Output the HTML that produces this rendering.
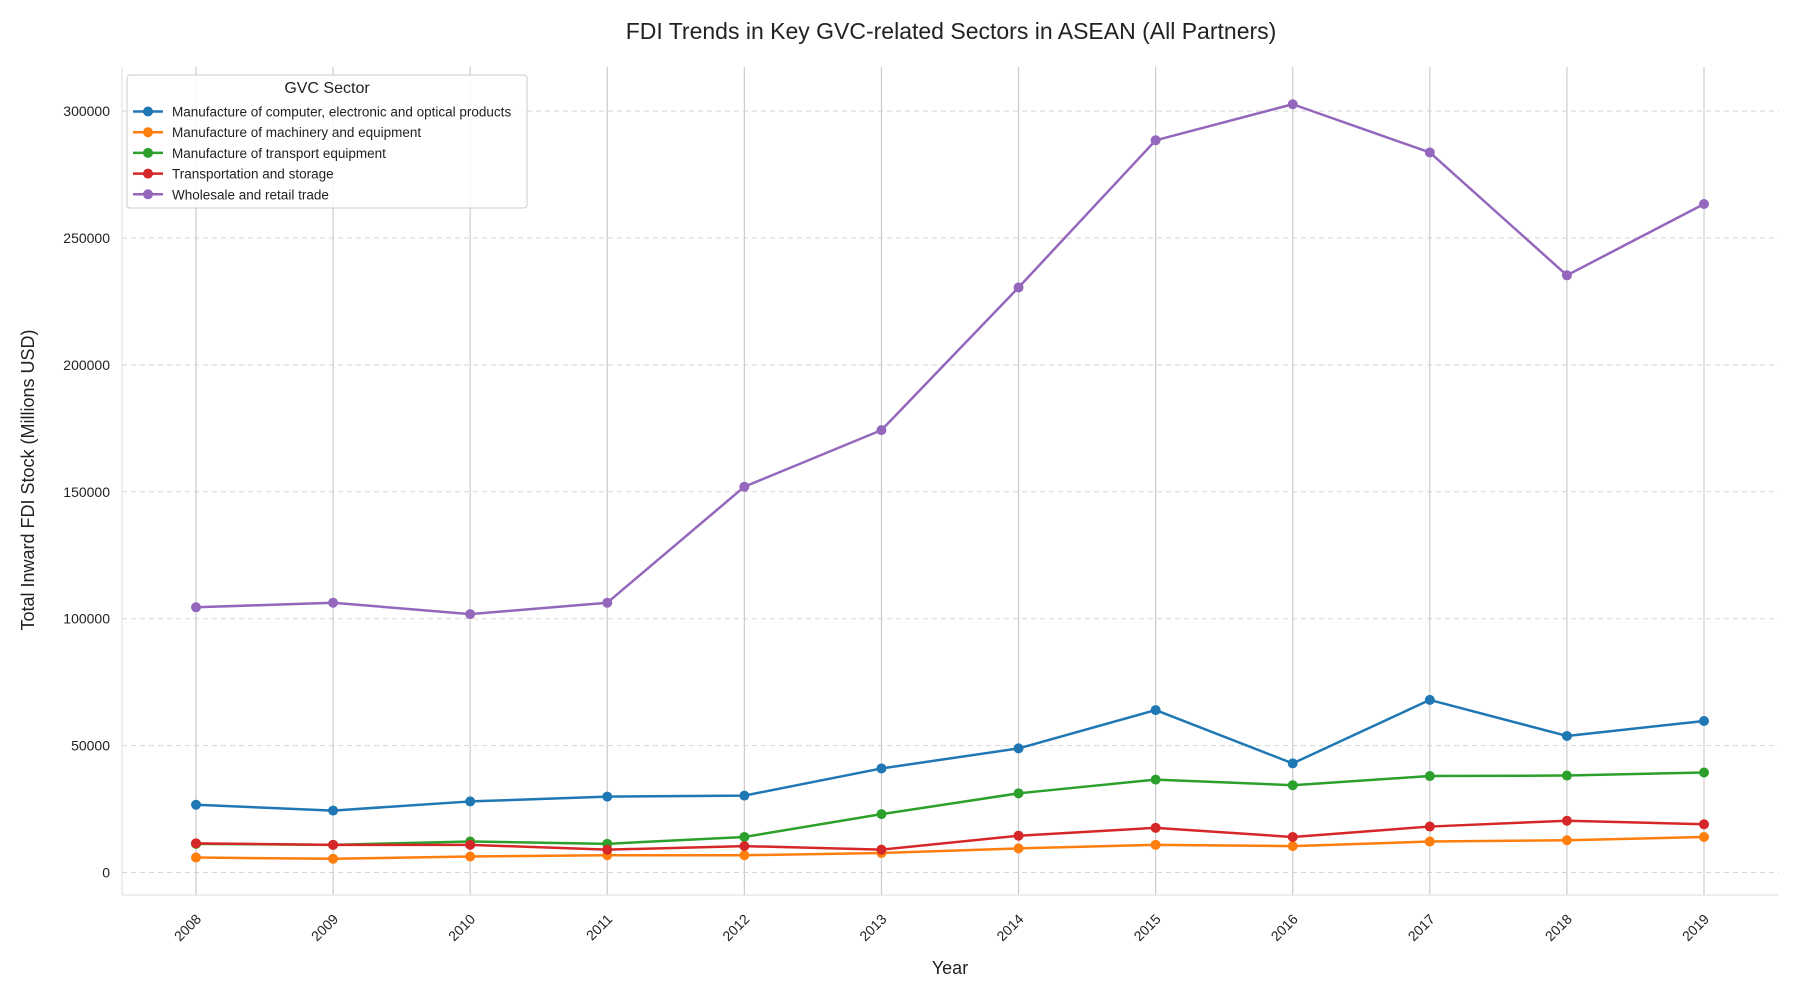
<!DOCTYPE html>
<html><head><meta charset="utf-8"><style>
body{margin:0;background:#fff;}
svg{display:block;font-family:"Liberation Sans",Arial,sans-serif;}
</style></head><body>
<svg id="s" width="1800" height="1000" xmlns="http://www.w3.org/2000/svg"></svg>
<script>
const s=document.getElementById('s');
const L=122,R=1779,T=67,B=895;
const X=i=>196+i*(1704-196)/11;
const Y=v=>872.5-v/50000*126.9;
let h='';
h+=`<text x="951" y="39" text-anchor="middle" font-size="23" fill="#222">FDI Trends in Key GVC-related Sectors in ASEAN (All Partners)</text>`;
for(let k=0;k<=6;k++){const y=Y(k*50000);
h+=`<line x1="${L}" x2="${R}" y1="${y}" y2="${y}" stroke="#d5d5d5" stroke-dasharray="5,4" stroke-width="1"/>`;
h+=`<text x="${L-12}" y="${y+5}" text-anchor="end" font-size="14" fill="#222">${k*50000}</text>`;}
for(let i=0;i<12;i++){const x=X(i);
h+=`<line x1="${x}" x2="${x}" y1="${T}" y2="${B}" stroke="#cccccc" stroke-width="1.2"/>`;
h+=`<text transform="translate(${x+6},${B+25}) rotate(-45)" text-anchor="end" font-size="14" fill="#222">${2008+i}</text>`;}
h+=`<line x1="${L}" x2="${L}" y1="${T}" y2="${B}" stroke="#ddd"/><line x1="${L}" x2="${R}" y1="${B}" y2="${B}" stroke="#ddd"/>`;
h+=`<text x="950" y="974" text-anchor="middle" font-size="18" fill="#222">Year</text>`;
h+=`<text transform="translate(34,480) rotate(-90)" text-anchor="middle" font-size="18" fill="#222">Total Inward FDI Stock (Millions USD)</text>`;
const D=[
["#1f77b4","Manufacture of computer, electronic and optical products",[26.7,24.4,28,29.9,30.3,41,48.9,64,43,68,53.8,59.7]],
["#ff7f0e","Manufacture of machinery and equipment",[5.9,5.4,6.3,6.8,6.8,7.7,9.5,10.9,10.4,12.2,12.7,14]],
["#2ca02c","Manufacture of transport equipment",[11.3,10.9,12.2,11.3,14,23,31.2,36.6,34.4,38,38.2,39.4]],
["#d62728","Transportation and storage",[11.5,10.9,10.9,9,10.4,9,14.5,17.6,14,18.1,20.4,19]],
["#9467bd","Wholesale and retail trade",[104.5,106.3,101.8,106.3,152,174.3,230.5,288.5,302.7,283.7,235.3,263.4]]];
D.forEach(([c,n,v])=>{
h+=`<polyline fill="none" stroke="${c}" stroke-width="2.5" stroke-linejoin="round" points="${v.map((a,i)=>X(i)+','+Y(a*1000)).join(' ')}"/>`;
v.forEach((a,i)=>h+=`<circle cx="${X(i)}" cy="${Y(a*1000)}" r="5" fill="${c}"/>`);});
h+=`<rect x="127" y="75" width="400" height="133" rx="3" fill="#fff" fill-opacity="0.85" stroke="#ccc"/>`;
h+=`<text x="327" y="93" text-anchor="middle" font-size="16" fill="#222">GVC Sector</text>`;
D.forEach(([c,n],k)=>{const y=111.5+k*20.7;
h+=`<line x1="133" x2="163" y1="${y}" y2="${y}" stroke="${c}" stroke-width="2.5"/><circle cx="148" cy="${y}" r="5" fill="${c}"/>`;
h+=`<text x="172" y="${y+5}" font-size="13.5" fill="#222">${n}</text>`;});
s.innerHTML=h;
</script>
</body></html>
